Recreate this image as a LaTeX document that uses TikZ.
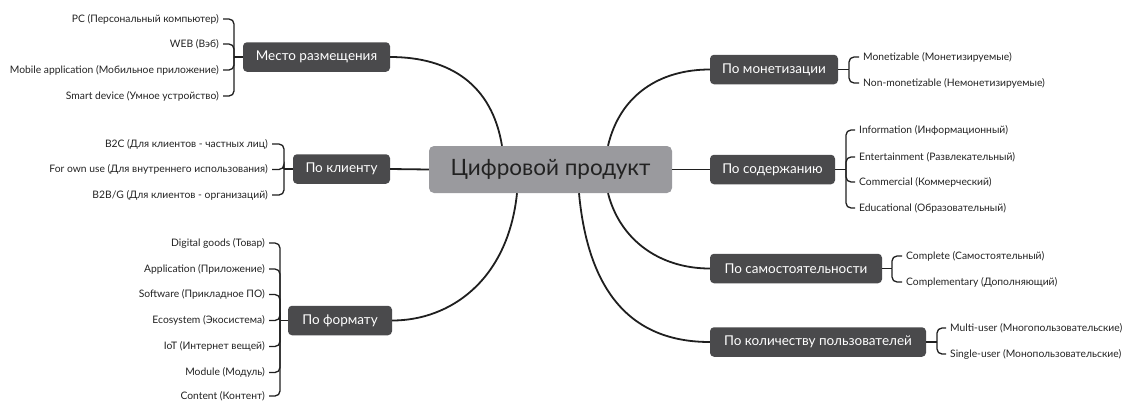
\documentclass[tikz,border=0pt]{standalone}
\usepackage{fontspec}
\setmainfont{Lato}
\definecolor{lc}{HTML}{1F1F1F}
\definecolor{catc}{HTML}{4A4A4C}
\definecolor{mainc}{HTML}{9A9A9E}
\definecolor{txt}{HTML}{222222}
\begin{document}
\begin{tikzpicture}[x=1pt,y=-1pt,
  leaf/.style={inner sep=0pt, font=\fontsize{10.3}{12}\selectfont, text=txt},
  cat/.style={fill=catc, text=white, rounded corners=4pt, minimum height=29.5pt, inner sep=0pt, font=\fontsize{13.5}{16}\selectfont},
  mainbox/.style={fill=mainc, text=txt, rounded corners=5pt, minimum width=243pt, minimum height=47pt, inner sep=0pt, font=\fontsize{22.5}{26}\selectfont},
  link/.style={draw=lc, line width=1.8pt},
  br/.style={draw=lc, line width=1.3pt, rounded corners=5pt}]
\useasboundingbox (0,0) rectangle (1125,400);

% central and category nodes
\node[mainbox] (c) at (550.5,169.5) {Цифровой продукт};
\node[cat, minimum width=147pt] (a) at (316.5,57) {Место размещения};
\node[cat, minimum width=97pt] (b) at (341.5,169) {По клиенту};
\node[cat, minimum width=104pt] (f) at (340,320.5) {По формату};
\node[cat, minimum width=128pt] (m) at (774,69.5) {По монетизации};
\node[cat, minimum width=125pt] (s) at (772.5,169.5) {По содержанию};
\node[cat, minimum width=172pt] (n) at (796,268.5) {По самостоятельности};
\node[cat, minimum width=216pt] (u) at (818,342) {По количеству пользователей};

% main links
\draw[link] (c.west) -- (b.east);
\draw[link] (c.east) -- (s.west);
\draw[link] ([xshift=-48.5pt]c.north) .. controls +(-10,-61) and +(60,0) .. (a.east);
\draw[link] ([xshift=-33.5pt]c.south) .. controls +(-9,87) and +(58,0) .. (f.east);
\draw[link] ([xshift=57.5pt]c.north) .. controls +(12,-51) and +(-50,0) .. (m.west);
\draw[link] ([xshift=57.5pt]c.south) .. controls +(12,47) and +(-50,0) .. (n.west);
\draw[link] ([xshift=28.5pt]c.south) .. controls +(9,97) and +(-80,0) .. (u.west);

% group a
\node[leaf, anchor=east] (a1) at (219,19) {PC (Персональный компьютер)};
\node[leaf, anchor=east] (a2) at (219,44) {WEB (Вэб)};
\node[leaf, anchor=east] (a3) at (219,70) {Mobile application (Мобильное приложение)};
\node[leaf, anchor=east] (a4) at (219,96) {Smart device (Умное устройство)};
\coordinate (as) at (234,57);
\draw[br] (a.west) -- (as);
\foreach \i in {1,...,4} \draw[br] ([xshift=4pt]a\i.east) -| (as);

% group b
\node[leaf, anchor=east] (b1) at (268,144) {B2C (Для клиентов - частных лиц)};
\node[leaf, anchor=east] (b2) at (268,169.5) {For own use (Для внутреннего использования)};
\node[leaf, anchor=east] (b3) at (268,195) {B2B/G (Для клиентов - организаций)};
\coordinate (bs) at (284,169);
\draw[br] (b.west) -- (bs);
\foreach \i in {1,...,3} \draw[br] ([xshift=4pt]b\i.east) -| (bs);

% group f
\node[leaf, anchor=east] (f1) at (265,243) {Digital goods (Товар)};
\node[leaf, anchor=east] (f2) at (265,269) {Application (Приложение)};
\node[leaf, anchor=east] (f3) at (265,294.5) {Software (Прикладное ПО)};
\node[leaf, anchor=east] (f4) at (265,320.5) {Ecosystem (Экосистема)};
\node[leaf, anchor=east] (f5) at (265,346.5) {IoT (Интернет вещей)};
\node[leaf, anchor=east] (f6) at (265,372.5) {Module (Модуль)};
\node[leaf, anchor=east] (f7) at (265,396) {Content (Контент)};
\coordinate (fs) at (280,320.5);
\draw[br] (f.west) -- (fs);
\foreach \i in {1,...,7} \draw[br] ([xshift=4pt]f\i.east) -| (fs);

% group m
\node[leaf, anchor=west] (m1) at (863,57) {Monetizable (Монетизируемые)};
\node[leaf, anchor=west] (m2) at (863,83) {Non-monetizable (Немонетизируемые)};
\coordinate (ms) at (849,69.5);
\draw[br] (m.east) -- (ms);
\foreach \i in {1,2} \draw[br] ([xshift=-4pt]m\i.west) -| (ms);

% group s
\node[leaf, anchor=west] (s1) at (859,130) {Information (Информационный)};
\node[leaf, anchor=west] (s2) at (859,157) {Entertainment (Развлекательный)};
\node[leaf, anchor=west] (s3) at (859,182) {Commercial (Коммерческий)};
\node[leaf, anchor=west] (s4) at (859,208) {Educational (Образовательный)};
\coordinate (ss) at (846,169.5);
\draw[br] (s.east) -- (ss);
\foreach \i in {1,...,4} \draw[br] ([xshift=-4pt]s\i.west) -| (ss);

% group n
\node[leaf, anchor=west] (n1) at (906,256) {Complete (Самостоятельный)};
\node[leaf, anchor=west] (n2) at (906,282) {Complementary (Дополняющий)};
\coordinate (ns) at (892,268.5);
\draw[br] (n.east) -- (ns);
\foreach \i in {1,2} \draw[br] ([xshift=-4pt]n\i.west) -| (ns);

% group u
\node[leaf, anchor=west] (u1) at (950,328) {Multi-user (Многопользовательские)};
\node[leaf, anchor=west] (u2) at (950,354) {Single-user (Монопользовательские)};
\coordinate (us) at (937,342);
\draw[br] (u.east) -- (us);
\foreach \i in {1,2} \draw[br] ([xshift=-4pt]u\i.west) -| (us);
\end{tikzpicture}
\end{document}
